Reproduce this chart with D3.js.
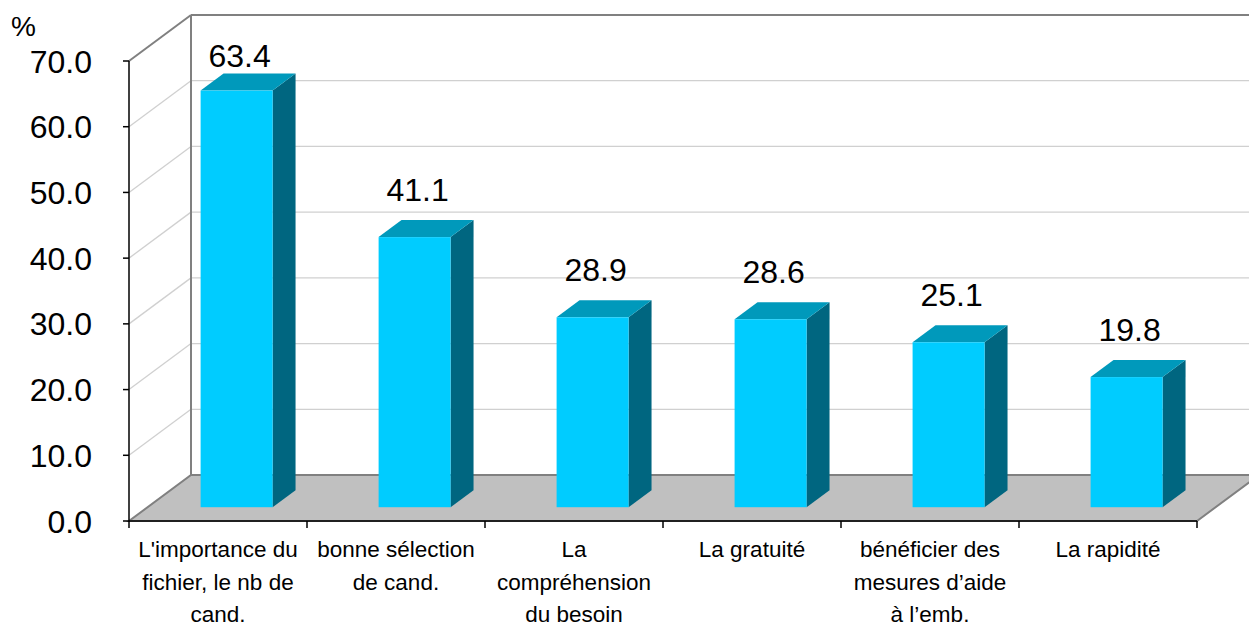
<!DOCTYPE html>
<html>
<head>
<meta charset="utf-8">
<script src="https://cdn.jsdelivr.net/npm/d3@7"></script>
<style>
  body { margin: 0; background: #fff; }
  text { font-family: Arial, "Liberation Sans", sans-serif; fill: #000; }
</style>
</head>
<body>
<div id="chart"></div>
<script>
// data
var categories = ["c1", "c2", "c3", "c4", "c5", "c6"];
var categoryLines = [
    ["L'importance du", "fichier, le nb de", "cand."],
    ["bonne sélection", "de cand."],
    ["La", "compréhension", "du besoin"],
    ["La gratuité"],
    ["bénéficier des", "mesures d’aide", "à l’emb."],
    ["La rapidité"]
];
var values = [63.4, 41.1, 28.9, 28.6, 25.1, 19.8];
var yTicks = [0, 10, 20, 30, 40, 50, 60, 70];

var width = 1249, height = 626;

// 3D depth offset (front plane -> back wall)
var DX = 62, DY = -46;
var barFront = 0.3, barBack = 0.67;

var x = d3.scaleBand().domain(categories).range([129, 1197])
    .paddingInner(0.5955).paddingOuter(0.2978);
var xCat = d3.scaleBand().domain(categories).range([129, 1197]);
var y = d3.scaleLinear().domain([0, 70]).range([521, 61]);

var svg = d3.select("#chart").append("svg")
    .attr("width", width)
    .attr("height", height);

var x0 = 129, x1 = 1197;

// back wall gridlines
svg.selectAll(".grid")
    .data(yTicks.slice(1, -1))
    .enter().append("line")
    .attr("x1", x0 + DX).attr("x2", x1 + DX + 20)
    .attr("y1", function(d) { return y(d) + DY; })
    .attr("y2", function(d) { return y(d) + DY; })
    .attr("stroke", "#d0d0d0").attr("stroke-width", 1.3);

// side wall lines
svg.selectAll(".side")
    .data(yTicks.slice(1, -1))
    .enter().append("line")
    .attr("x1", x0).attr("x2", x0 + DX)
    .attr("y1", function(d) { return y(d); })
    .attr("y2", function(d) { return y(d) + DY; })
    .attr("stroke", "#d0d0d0").attr("stroke-width", 1.3);

// top borders of walls
svg.append("line")
    .attr("x1", x0).attr("y1", y(70)).attr("x2", x0 + DX).attr("y2", y(70) + DY)
    .attr("stroke", "#808080").attr("stroke-width", 2);
svg.append("line")
    .attr("x1", x0 + DX).attr("y1", y(70) + DY).attr("x2", x1 + DX + 20).attr("y2", y(70) + DY)
    .attr("stroke", "#808080").attr("stroke-width", 2);
svg.append("line")
    .attr("x1", x0 + DX).attr("y1", y(70) + DY).attr("x2", x0 + DX).attr("y2", y(0) + DY)
    .attr("stroke", "#808080").attr("stroke-width", 2);

// floor
var floorPts = [[x0, y(0)], [x1, y(0)], [x1 + DX, y(0) + DY], [x0 + DX, y(0) + DY]];
svg.append("polygon")
    .attr("points", floorPts.map(function(p) { return p.join(","); }).join(" "))
    .attr("fill", "#c0c0c0")
    .attr("stroke", "#808080")
    .attr("stroke-width", 2);

// axes
svg.append("line")
    .attr("x1", x0).attr("x2", x0).attr("y1", y(70)).attr("y2", y(0) + 1)
    .attr("stroke", "#000").attr("stroke-width", 1.5);
svg.append("line")
    .attr("x1", x0).attr("x2", x1).attr("y1", y(0)).attr("y2", y(0))
    .attr("stroke", "#000").attr("stroke-width", 1.5);

svg.selectAll(".ytick")
    .data(yTicks)
    .enter().append("line")
    .attr("x1", x0 - 6).attr("x2", x0)
    .attr("y1", function(d) { return y(d); })
    .attr("y2", function(d) { return y(d); })
    .attr("stroke", "#000").attr("stroke-width", 1.5);

svg.selectAll(".ylabel")
    .data(yTicks)
    .enter().append("text")
    .attr("x", 92)
    .attr("y", function(d) { return y(d); })
    .attr("dy", "0.36em")
    .style("text-anchor", "end")
    .style("font-size", "32px")
    .text(function(d) { return d.toFixed(1); });

svg.append("text")
    .attr("x", 11).attr("y", 36)
    .style("font-size", "28px")
    .text("%");

// category ticks
var catEdges = categories.map(function(c) { return xCat(c); }).concat([x1]);
svg.selectAll(".xtick")
    .data(catEdges)
    .enter().append("line")
    .attr("x1", function(d) { return d; }).attr("x2", function(d) { return d; })
    .attr("y1", y(0)).attr("y2", y(0) + 7)
    .attr("stroke", "#000").attr("stroke-width", 1.5);

// category labels
var catLabels = svg.selectAll(".xlabel")
    .data(categories)
    .enter().append("text")
    .attr("x", function(d) { return xCat(d) + xCat.bandwidth() / 2; })
    .attr("y", 557)
    .style("text-anchor", "middle")
    .style("font-size", "22.5px");
catLabels.each(function(d, i) {
    var t = d3.select(this);
    categoryLines[i].forEach(function(line, j) {
        t.append("tspan")
            .attr("x", xCat(d) + xCat.bandwidth() / 2)
            .attr("y", 557 + j * 32.5)
            .text(line);
    });
});

// bars
var bars = svg.selectAll(".bar")
    .data(values)
    .enter().append("g");

function pts(arr) { return arr.map(function(p) { return p.join(","); }).join(" "); }

bars.each(function(v, i) {
    var g = d3.select(this);
    var fx = x(categories[i]) + DX * barFront, fy = DY * barFront;
    var bw = x.bandwidth();
    var ddx = DX * (barBack - barFront), ddy = DY * (barBack - barFront);
    var top = y(v) + fy, bot = y(0) + fy;
    // side face
    g.append("polygon")
        .attr("points", pts([[fx + bw, top], [fx + bw + ddx, top + ddy], [fx + bw + ddx, bot + ddy], [fx + bw, bot]]))
        .attr("fill", "#006680");
    // top face
    g.append("polygon")
        .attr("points", pts([[fx, top], [fx + ddx, top + ddy], [fx + bw + ddx, top + ddy], [fx + bw, top]]))
        .attr("fill", "#0099bb");
    // front face
    g.append("rect")
        .attr("x", fx).attr("y", top)
        .attr("width", bw).attr("height", bot - top)
        .attr("fill", "#00ccff");
    // value label
    g.append("text")
        .attr("x", fx + bw / 2 + 3)
        .attr("y", Math.max(top - 36, 67))
        .style("text-anchor", "middle")
        .style("font-size", "32px")
        .text(v.toFixed(1));
});
</script>
</body>
</html>
